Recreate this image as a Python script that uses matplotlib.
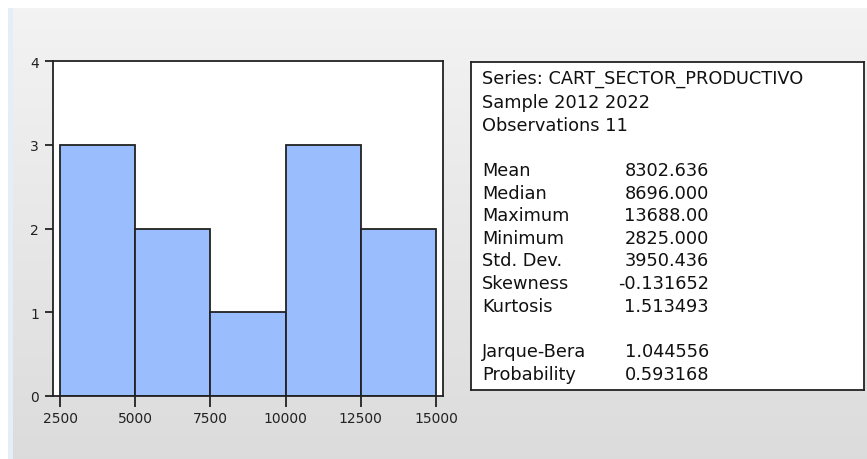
import numpy as np
import matplotlib
matplotlib.use('Agg')
from matplotlib import pyplot as plt, patches

plt.rcParams['font.family'] = ['DejaVu Sans']

# histogram data
bin_edges = [2500, 5000, 7500, 10000, 12500, 15000]
counts = [3, 2, 1, 3, 2]
xticks = [2500, 5000, 7500, 10000, 12500, 15000]
yticks = [0, 1, 2, 3, 4]

# statistics panel
header = ['Series: CART_SECTOR_PRODUCTIVO', 'Sample 2012 2022', 'Observations 11']
stat_names = ['Mean', 'Median', 'Maximum', 'Minimum', 'Std. Dev.', 'Skewness', 'Kurtosis']
stat_values = ['8302.636', '8696.000', '13688.00', '2825.000', '3950.436', '-0.131652', '1.513493']
test_names = ['Jarque-Bera', 'Probability']
test_values = ['1.044556', '0.593168']

W, H = 867, 460
fig = plt.figure(figsize=(W / 100, H / 100), dpi=100)

# background gradient
bg = fig.add_axes([0, 0, 1, 1], zorder=-10)
grad = np.linspace(0.955, 0.862, H)[:, None] * np.ones((1, W))
img = np.dstack([grad, grad, grad])
img[9:, 8:13, :] = np.array([0.90, 0.93, 0.98])
img[:9, :, :] = 1.0
img[:, :8, :] = 1.0
bg.imshow(img, aspect='auto', extent=[0, W, H, 0], interpolation='nearest')
bg.axis('off')

# histogram axes (pixel coords -> figure fraction)
x0, x1, y0, y1 = 53, 443, 62, 397
ax = fig.add_axes([x0 / W, 1 - y1 / H, (x1 - x0) / W, (y1 - y0) / H])
widths = np.diff(bin_edges)
ax.bar(bin_edges[:-1], counts, width=widths, align='edge',
       color='#99bdfd', edgecolor='#222222', linewidth=1.3)
ax.set_xlim(2267, 15233)
ax.set_ylim(0, 4)
ax.set_xticks(xticks)
ax.set_yticks(yticks)
ax.tick_params(axis='x', direction='out', length=8, width=1.3, pad=3, labelsize=10, colors='#222222')
ax.tick_params(axis='y', direction='out', length=6, width=1.3, pad=4, labelsize=10, colors='#222222')
for s in ax.spines.values():
    s.set_linewidth(1.3)
    s.set_color('#222222')

# stats box
bx0, bx1, by0, by1 = 471, 864, 63, 391
box = fig.add_axes([bx0 / W, 1 - by1 / H, (bx1 - bx0) / W, (by1 - by0) / H])
box.set_xlim(bx0, bx1)
box.set_ylim(by1, by0)
box.set_xticks([])
box.set_yticks([])
for s in box.spines.values():
    s.set_linewidth(1.3)
    s.set_color('#222222')

fs = 12.8
tx = 482
vx = 709
for i, t in enumerate(header):
    box.text(tx, 79 + i * 23.5, t, fontsize=fs, va='center', ha='left', color='#111111')
for i, (n, v) in enumerate(zip(stat_names, stat_values)):
    y = 171 + i * 22.6
    box.text(tx, y, n, fontsize=fs, va='center', ha='left', color='#111111')
    box.text(vx, y, v, fontsize=fs, va='center', ha='right', color='#111111')
for i, (n, v) in enumerate(zip(test_names, test_values)):
    y = 352 + i * 23
    box.text(tx, y, n, fontsize=fs, va='center', ha='left', color='#111111')
    box.text(vx, y, v, fontsize=fs, va='center', ha='right', color='#111111')

fig.savefig('out.png', dpi=100)
